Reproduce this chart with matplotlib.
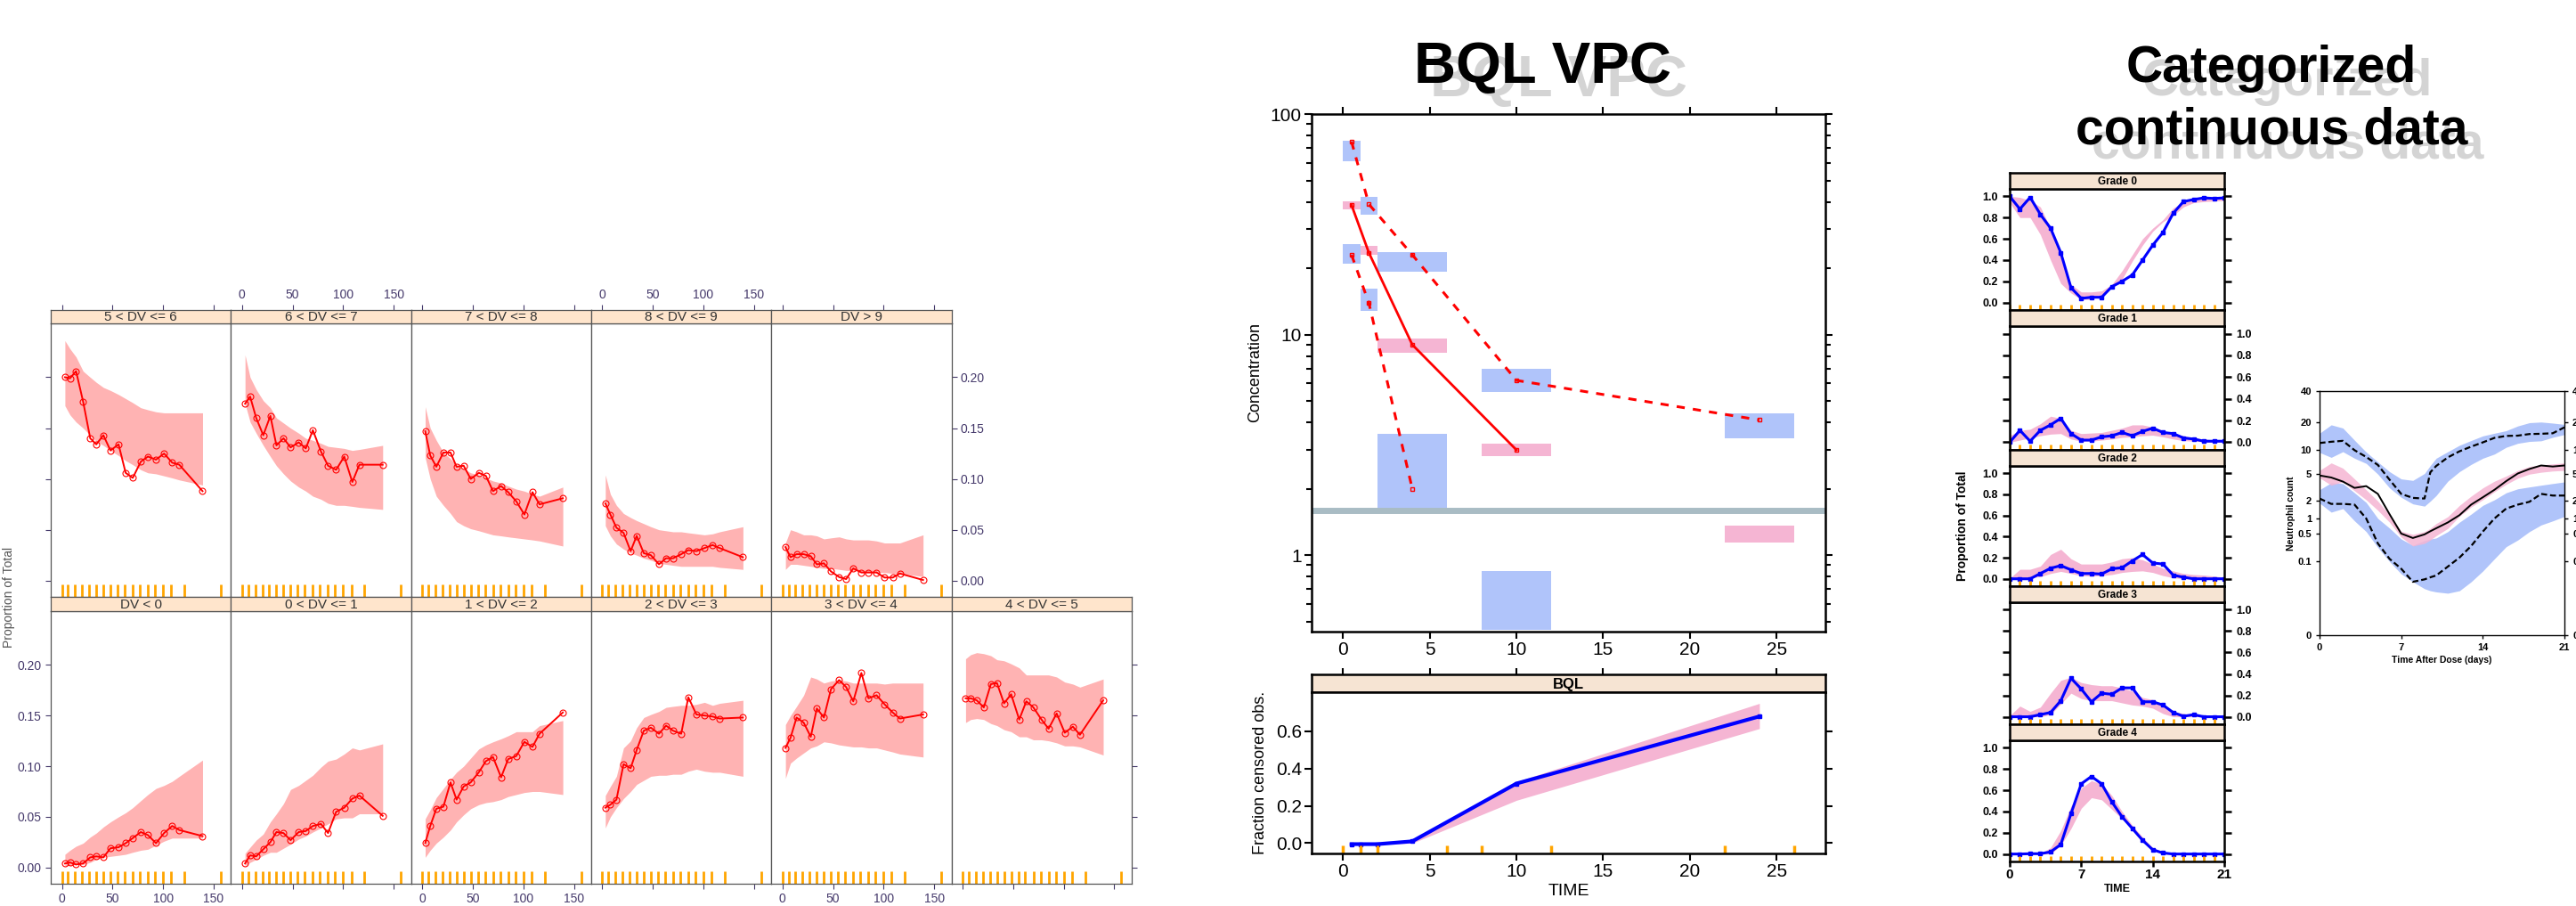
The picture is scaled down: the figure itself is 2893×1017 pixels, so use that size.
import numpy as np
import matplotlib.pyplot as plt
from matplotlib.ticker import FormatStrFormatter, NullFormatter

W, H = 2893, 1017
plt.rcParams['font.family'] = ['Liberation Sans', 'DejaVu Sans']
fig = plt.figure(figsize=(W / 100, H / 100), dpi=100)


def px_axes(l, t, r, b):
    # axes from pixel box (left, top, right, bottom)
    return fig.add_axes([l / W, 1 - b / H, (r - l) / W, (b - t) / H])


# ---------------- LEFT: lattice VPC of categories ----------------
lat_time = [3, 8, 14, 21, 28, 34, 41, 48, 56, 63, 70, 78, 85, 93, 101, 109, 116, 139]
lat_rug = [0, 6, 13, 20, 27, 34, 41, 48, 55, 62, 70, 77, 85, 92, 100, 108, 121, 157]

labels_top = ['5 < DV <= 6', '6 < DV <= 7', '7 < DV <= 8', '8 < DV <= 9', 'DV > 9']
labels_bot = ['DV < 0', '0 < DV <= 1', '1 < DV <= 2', '2 < DV <= 3', '3 < DV <= 4', '4 < DV <= 5']

obs_56 = [0.200, 0.199, 0.206, 0.176, 0.140, 0.134, 0.143, 0.128, 0.134, 0.106, 0.101, 0.117, 0.122, 0.119, 0.125, 0.116, 0.114, 0.088]
lo_56 = [0.172, 0.163, 0.156, 0.150, 0.143, 0.137, 0.133, 0.128, 0.123, 0.118, 0.114, 0.109, 0.106, 0.105, 0.103, 0.101, 0.099, 0.094]
hi_56 = [0.236, 0.228, 0.220, 0.206, 0.200, 0.195, 0.190, 0.187, 0.183, 0.179, 0.175, 0.170, 0.168, 0.166, 0.165, 0.165, 0.165, 0.165]

obs_67 = [0.174, 0.181, 0.160, 0.143, 0.162, 0.133, 0.140, 0.131, 0.136, 0.130, 0.148, 0.127, 0.113, 0.109, 0.122, 0.097, 0.114, 0.114]
lo_67 = [0.174, 0.156, 0.145, 0.133, 0.122, 0.113, 0.105, 0.098, 0.092, 0.088, 0.083, 0.080, 0.076, 0.074, 0.074, 0.073, 0.072, 0.070]
hi_67 = [0.222, 0.200, 0.188, 0.177, 0.170, 0.160, 0.155, 0.150, 0.145, 0.140, 0.138, 0.135, 0.132, 0.131, 0.130, 0.128, 0.129, 0.133]

obs_78 = [0.147, 0.123, 0.112, 0.126, 0.126, 0.112, 0.113, 0.100, 0.106, 0.103, 0.088, 0.093, 0.087, 0.078, 0.065, 0.087, 0.075, 0.081]
lo_78 = [0.121, 0.100, 0.083, 0.074, 0.066, 0.058, 0.054, 0.051, 0.049, 0.047, 0.045, 0.044, 0.043, 0.042, 0.041, 0.040, 0.039, 0.034]
hi_78 = [0.171, 0.150, 0.138, 0.126, 0.120, 0.113, 0.110, 0.106, 0.104, 0.101, 0.098, 0.096, 0.093, 0.090, 0.088, 0.085, 0.083, 0.092]

obs_89 = [0.076, 0.065, 0.052, 0.047, 0.029, 0.044, 0.027, 0.025, 0.016, 0.022, 0.022, 0.026, 0.030, 0.029, 0.032, 0.035, 0.032, 0.023]
lo_89 = [0.054, 0.044, 0.036, 0.031, 0.027, 0.025, 0.022, 0.020, 0.017, 0.016, 0.015, 0.014, 0.014, 0.014, 0.014, 0.014, 0.013, 0.011]
hi_89 = [0.104, 0.085, 0.074, 0.066, 0.062, 0.059, 0.056, 0.053, 0.050, 0.049, 0.048, 0.048, 0.047, 0.046, 0.045, 0.046, 0.048, 0.053]

obs_9 = [0.033, 0.023, 0.026, 0.026, 0.024, 0.016, 0.017, 0.009, 0.0035, 0.0015, 0.012, 0.008, 0.008, 0.008, 0.003, 0.003, 0.007, 0.0006]
lo_9 = [0.011, 0.016, 0.016, 0.015, 0.014, 0.013, 0.012, 0.012, 0.011, 0.010, 0.010, 0.009, 0.009, 0.008, 0.008, 0.007, 0.007, 0.004]
hi_9 = [0.037, 0.050, 0.048, 0.045, 0.045, 0.044, 0.041, 0.042, 0.043, 0.041, 0.040, 0.040, 0.040, 0.039, 0.037, 0.037, 0.037, 0.045]

obs_n0 = [0.004, 0.005, 0.003, 0.004, 0.010, 0.011, 0.010, 0.019, 0.020, 0.024, 0.029, 0.035, 0.032, 0.024, 0.034, 0.041, 0.037, 0.031]
lo_n0 = [0.002, 0.002, 0.003, 0.003, 0.005, 0.008, 0.010, 0.011, 0.012, 0.013, 0.015, 0.017, 0.018, 0.022, 0.026, 0.029, 0.029, 0.029]
hi_n0 = [0.013, 0.017, 0.021, 0.024, 0.030, 0.034, 0.040, 0.045, 0.050, 0.054, 0.059, 0.066, 0.072, 0.078, 0.081, 0.085, 0.090, 0.106]

obs_01 = [0.004, 0.012, 0.011, 0.018, 0.025, 0.035, 0.034, 0.027, 0.035, 0.036, 0.041, 0.043, 0.034, 0.055, 0.059, 0.068, 0.071, 0.051]
lo_01 = [0.002, 0.005, 0.008, 0.012, 0.015, 0.015, 0.019, 0.023, 0.028, 0.031, 0.035, 0.039, 0.043, 0.048, 0.049, 0.049, 0.053, 0.053]
hi_01 = [0.014, 0.020, 0.027, 0.033, 0.045, 0.053, 0.063, 0.077, 0.081, 0.086, 0.091, 0.099, 0.105, 0.107, 0.112, 0.118, 0.116, 0.122]

obs_12 = [0.024, 0.041, 0.058, 0.060, 0.084, 0.067, 0.080, 0.084, 0.094, 0.105, 0.109, 0.089, 0.107, 0.110, 0.124, 0.119, 0.132, 0.153]
lo_12 = [0.010, 0.017, 0.024, 0.030, 0.037, 0.045, 0.052, 0.058, 0.062, 0.064, 0.065, 0.067, 0.070, 0.072, 0.074, 0.075, 0.075, 0.072]
hi_12 = [0.048, 0.057, 0.069, 0.078, 0.087, 0.094, 0.100, 0.108, 0.117, 0.121, 0.124, 0.127, 0.130, 0.134, 0.134, 0.134, 0.140, 0.145]

obs_23 = [0.059, 0.062, 0.067, 0.102, 0.098, 0.116, 0.135, 0.138, 0.132, 0.140, 0.135, 0.132, 0.168, 0.151, 0.150, 0.149, 0.147, 0.148]
lo_23 = [0.039, 0.050, 0.059, 0.068, 0.075, 0.082, 0.086, 0.090, 0.091, 0.091, 0.092, 0.092, 0.095, 0.097, 0.095, 0.094, 0.094, 0.090]
hi_23 = [0.071, 0.080, 0.090, 0.118, 0.125, 0.138, 0.148, 0.151, 0.154, 0.158, 0.159, 0.160, 0.160, 0.161, 0.163, 0.160, 0.162, 0.165]

obs_34 = [0.118, 0.128, 0.148, 0.143, 0.129, 0.157, 0.148, 0.176, 0.185, 0.178, 0.164, 0.192, 0.167, 0.170, 0.161, 0.153, 0.147, 0.151]
lo_34 = [0.088, 0.103, 0.108, 0.113, 0.118, 0.120, 0.124, 0.123, 0.121, 0.120, 0.119, 0.119, 0.118, 0.118, 0.116, 0.114, 0.112, 0.109]
hi_34 = [0.141, 0.150, 0.159, 0.170, 0.188, 0.186, 0.182, 0.184, 0.185, 0.184, 0.182, 0.182, 0.182, 0.182, 0.181, 0.182, 0.182, 0.182]

obs_45 = [0.167, 0.167, 0.165, 0.158, 0.181, 0.182, 0.162, 0.171, 0.146, 0.164, 0.158, 0.146, 0.137, 0.152, 0.133, 0.139, 0.131, 0.165]
lo_45 = [0.143, 0.146, 0.147, 0.146, 0.142, 0.140, 0.136, 0.134, 0.129, 0.129, 0.126, 0.126, 0.125, 0.123, 0.120, 0.120, 0.119, 0.111]
hi_45 = [0.206, 0.210, 0.212, 0.211, 0.209, 0.205, 0.204, 0.201, 0.197, 0.190, 0.190, 0.190, 0.190, 0.188, 0.183, 0.181, 0.178, 0.186]

# ---------------- MIDDLE: BQL VPC ----------------
blue_x0 = [0, 1, 0, 2, 1, 8, 22, 2, 8]
blue_x1 = [1, 2, 1, 6, 2, 12, 26, 6, 12]
blue_lo = [61, 35, 21, 19.2, 12.8, 5.5, 3.4, 1.6, 0.46]
blue_hi = [76, 42, 25.7, 23.7, 16.1, 7.0, 4.4, 3.54, 0.85]
pink_x0 = [0, 1, 2, 8, 22]
pink_x1 = [1, 2, 6, 12, 26]
pink_lo = [37, 23, 8.3, 2.8, 1.14]
pink_hi = [40.3, 25.2, 9.6, 3.2, 1.36]
loq = 1.6

p95_t = [0.5, 1.5, 4, 10, 24]
p95_obs = [75, 39, 23, 6.2, 4.1]
p50_t = [0.5, 1.5, 4, 10]
p50_obs = [38.7, 23.5, 9.0, 3.0]
p05_t = [0.5, 1.5, 4]
p05_obs = [23, 13.9, 2.0]

bql_t = [0.5, 1, 2, 4, 10, 24]
bql_obs = [-0.005, -0.005, -0.005, 0.01, 0.32, 0.68]
bql_lo = [-0.005, -0.005, -0.005, 0.0, 0.23, 0.615]
bql_hi = [-0.005, -0.005, -0.005, 0.02, 0.33, 0.75]
bql_rug = [0, 1, 2, 6, 8, 12, 22, 26]

# ---------------- RIGHT: categorized grades ----------------
grade_days = [0, 1, 2, 3, 4, 5, 6, 7, 8, 9, 10, 11, 12, 13, 14, 15, 16, 17, 18, 19, 20, 21]
grade_rug = [0, 1, 2, 3, 4, 5, 6, 7, 8, 9, 10, 11, 12, 13, 14, 15, 16, 17, 18, 19, 20]
grade_names = ['Grade 0', 'Grade 1', 'Grade 2', 'Grade 3', 'Grade 4']

g0_obs = [1.0, 0.88, 0.99, 0.83, 0.70, 0.47, 0.14, 0.04, 0.05, 0.05, 0.15, 0.20, 0.26, 0.40, 0.54, 0.66, 0.84, 0.95, 0.97, 0.985, 0.98, 0.985]
g0_lo = [0.94, 0.80, 0.80, 0.64, 0.40, 0.18, 0.09, 0.03, 0.03, 0.07, 0.14, 0.22, 0.39, 0.54, 0.67, 0.76, 0.82, 0.90, 0.94, 0.95, 0.955, 0.96]
g0_hi = [1.0, 0.99, 0.96, 0.90, 0.70, 0.45, 0.17, 0.10, 0.10, 0.11, 0.17, 0.30, 0.45, 0.60, 0.70, 0.78, 0.89, 0.94, 0.97, 0.98, 0.985, 0.99]

g1_obs = [0.0, 0.11, 0.01, 0.11, 0.16, 0.22, 0.08, 0.02, 0.02, 0.05, 0.06, 0.09, 0.06, 0.10, 0.13, 0.09, 0.08, 0.04, 0.03, 0.01, 0.01, 0.01]
g1_lo = [0.0, 0.02, 0.04, 0.06, 0.075, 0.08, 0.03, 0.01, 0.01, 0.02, 0.03, 0.045, 0.05, 0.06, 0.065, 0.05, 0.03, 0.015, 0.01, 0.005, 0.0, 0.0]
g1_hi = [0.06, 0.11, 0.12, 0.17, 0.24, 0.22, 0.11, 0.08, 0.085, 0.09, 0.11, 0.13, 0.16, 0.16, 0.14, 0.11, 0.08, 0.06, 0.04, 0.03, 0.02, 0.01]

g2_obs = [0.0, 0.0, 0.0, 0.05, 0.10, 0.125, 0.085, 0.05, 0.05, 0.045, 0.095, 0.105, 0.17, 0.23, 0.15, 0.14, 0.035, 0.015, 0.0, 0.0, 0.0, 0.0]
g2_lo = [0.0, 0.0, 0.01, 0.02, 0.05, 0.07, 0.05, 0.03, 0.025, 0.03, 0.04, 0.06, 0.07, 0.075, 0.06, 0.03, 0.01, 0.0, 0.0, 0.0, 0.0, 0.0]
g2_hi = [0.005, 0.09, 0.09, 0.12, 0.23, 0.28, 0.19, 0.14, 0.14, 0.14, 0.16, 0.19, 0.20, 0.18, 0.14, 0.10, 0.075, 0.05, 0.04, 0.035, 0.025, 0.015]

g3_obs = [0.0, 0.0, 0.0, 0.02, 0.04, 0.15, 0.36, 0.26, 0.14, 0.22, 0.21, 0.27, 0.27, 0.14, 0.14, 0.11, 0.04, 0.005, 0.02, 0.0, 0.0, 0.0]
g3_lo = [0.0, 0.0, 0.0, 0.0, 0.02, 0.12, 0.22, 0.17, 0.15, 0.15, 0.15, 0.13, 0.11, 0.10, 0.08, 0.03, 0.0, 0.0, 0.0, 0.0, 0.0, 0.0]
g3_hi = [0.01, 0.10, 0.05, 0.09, 0.22, 0.34, 0.37, 0.32, 0.30, 0.29, 0.29, 0.27, 0.24, 0.18, 0.16, 0.11, 0.05, 0.03, 0.02, 0.01, 0.01, 0.005]

g4_obs = [0.0, 0.0, 0.003, 0.003, 0.02, 0.09, 0.38, 0.66, 0.73, 0.66, 0.49, 0.35, 0.24, 0.13, 0.04, 0.01, 0.0, 0.0, 0.0, 0.0, 0.0, 0.0]
g4_lo = [0.0, 0.0, 0.0, 0.0, 0.0, 0.08, 0.24, 0.43, 0.53, 0.51, 0.42, 0.33, 0.24, 0.12, 0.04, 0.0, 0.0, 0.0, 0.0, 0.0, 0.0, 0.0]
g4_hi = [0.0, 0.0, 0.0, 0.005, 0.06, 0.22, 0.45, 0.62, 0.69, 0.66, 0.55, 0.40, 0.27, 0.16, 0.06, 0.02, 0.008, 0.005, 0.0, 0.0, 0.0, 0.0]

# neutrophil count VPC
neut_days = [0, 1, 2, 3, 4, 5, 6, 7, 8, 9, 9.5, 10, 11, 12, 13, 14, 15, 16, 17, 18, 19, 20, 21]
n95_obs = [12.1, 12.5, 12.8, 10, 8.3, 6.6, 4.2, 2.6, 2.25, 2.2, 5.3, 6.4, 8.2, 9.7, 11, 12.3, 13.8, 14.5, 14.6, 15.2, 15.3, 15.5, 17.9]
n95_lo = [9.4, 8.2, 9.6, 8.0, 6.9, 5.0, 3.2, 2.3, 1.8, 1.65, 2.0, 2.45, 4.0, 5.4, 6.7, 8.0, 9.0, 10.8, 12.0, 12.6, 12.8, 14, 15]
n95_hi = [15.5, 19.0, 17.6, 13, 9.5, 7.2, 5.4, 4.3, 4.1, 5.1, 6.5, 8.0, 9.6, 11.4, 12.9, 14.5, 15.5, 16.5, 18.5, 20.0, 20.3, 19.8, 19.2]
n50_obs = [4.8, 4.5, 3.95, 3.2, 3.4, 2.6, 1.2, 0.5, 0.4, 0.48, 0.56, 0.645, 0.84, 1.15, 1.75, 2.3, 3.0, 4.0, 5.1, 5.85, 6.5, 6.3, 6.5]
n50_lo = [4.46, 3.5, 3.9, 2.9, 2.1, 1.4, 0.85, 0.42, 0.26, 0.3, 0.36, 0.45, 0.64, 1.1, 1.6, 2.1, 2.8, 3.6, 4.4, 5.0, 5.3, 5.5, 5.6]
n50_hi = [5.6, 7.0, 6.0, 4.3, 3.0, 2.0, 1.16, 0.56, 0.48, 0.55, 0.645, 0.8, 1.08, 1.7, 2.4, 3.2, 4.0, 4.7, 5.6, 6.3, 6.6, 6.8, 7.0]
n05_obs = [2.2, 1.8, 1.8, 1.75, 1.0, 0.3, 0.12, 0.06, 0.02, 0.025, 0.03, 0.035, 0.07, 0.13, 0.26, 0.55, 1.0, 1.5, 1.75, 1.95, 2.6, 2.45, 2.45]
n05_lo = [1.86, 1.3, 1.5, 0.9, 0.55, 0.24, 0.1, 0.04, 0.02, 0.01, 0.008, 0.007, 0.006, 0.008, 0.02, 0.05, 0.12, 0.25, 0.36, 0.55, 0.75, 0.9, 1.09]
n05_hi = [3.0, 3.8, 3.7, 2.7, 1.9, 1.0, 0.65, 0.38, 0.27, 0.35, 0.38, 0.40, 0.55, 0.85, 1.2, 1.7, 2.1, 2.7, 3.1, 3.3, 3.5, 3.7, 3.9]

BAND_BLUE = '#b0c4fa'
BAND_PINK = '#f5b5d3'
STRIP_BEIGE = '#f6e4d3'
LAT_TICK = '#45396b'


# ===== left lattice =====
def lattice_panel(col, row, label, obs, lo, hi):
    left = 57 + col * 202.3
    right = left + 202.3
    if row == 0:
        s_top, p_top, p_bot = 348, 363, 670
    else:
        s_top, p_top, p_bot = 670, 686, 992
    ax = px_axes(left, p_top, right, p_bot)
    ax.fill_between(lat_time, lo, hi, color='#ffb3b3', lw=0)
    ax.plot(lat_time, obs, color='red', lw=1.4, marker='o', ms=5, mfc='none', mew=0.8)
    ax.vlines(lat_rug, 0, 0.045, transform=ax.get_xaxis_transform(), color='#ffa500', lw=2)
    ax.set_xlim(-11, 167)
    ax.set_ylim(-0.016, 0.253)
    ax.set_xticks([0, 50, 100, 150])
    ax.set_yticks([0, 0.05, 0.10, 0.15, 0.20])
    ax.yaxis.set_major_formatter(FormatStrFormatter('%.2f'))
    for sp in ax.spines.values():
        sp.set_color('#555555')
        sp.set_linewidth(0.9)
    ax.tick_params(colors=LAT_TICK, labelsize=10, length=4, width=0.8, direction='out')
    ax.tick_params(axis='x', top=False, labeltop=False,
                   bottom=(row == 1), labelbottom=(row == 1 and col % 2 == 0))
    ax.tick_params(axis='y', left=(col == 0), labelleft=(row == 1 and col == 0),
                   right=(row == 0 and col == 4) or (row == 1 and col == 5),
                   labelright=(row == 0 and col == 4))

    sax = px_axes(left, s_top, right, p_top)
    sax.set_facecolor('#ffe5cc')
    sax.set_xlim(-11, 167)
    sax.set_yticks([])
    if row == 0:
        sax.set_xticks([0, 50, 100, 150])
        sax.tick_params(axis='x', bottom=False, labelbottom=False, top=True,
                        labeltop=(col % 2 == 1), colors=LAT_TICK, labelsize=10,
                        length=4, width=0.8)
    else:
        sax.set_xticks([])
    for sp in sax.spines.values():
        sp.set_color('#555555')
        sp.set_linewidth(0.9)
    sax.text(0.5, 0.45, label, transform=sax.transAxes, ha='center', va='center',
             fontsize=11, color='#333333')


top_data = [(obs_56, lo_56, hi_56), (obs_67, lo_67, hi_67), (obs_78, lo_78, hi_78),
            (obs_89, lo_89, hi_89), (obs_9, lo_9, hi_9)]
bot_data = [(obs_n0, lo_n0, hi_n0), (obs_01, lo_01, hi_01), (obs_12, lo_12, hi_12),
            (obs_23, lo_23, hi_23), (obs_34, lo_34, hi_34), (obs_45, lo_45, hi_45)]
for i, (o, l, h) in enumerate(top_data):
    lattice_panel(i, 0, labels_top[i], o, l, h)
for i, (o, l, h) in enumerate(bot_data):
    lattice_panel(i, 1, labels_bot[i], o, l, h)
fig.text(10 / W, 1 - 670 / H, 'Proportion of Total', rotation=90, ha='center', va='center',
         fontsize=10, color='#555555')


# ===== middle: BQL VPC =====
def shadow_title(x, y, s, size):
    fig.text((x + 18) / W, 1 - (y + 15) / H, s, ha='center', va='baseline', fontsize=size,
             fontweight='bold', color='#d4d4d4')
    fig.text(x / W, 1 - y / H, s, ha='center', va='baseline', fontsize=size,
             fontweight='bold', color='black')


shadow_title(1732, 93, 'BQL VPC', 47)

ax = px_axes(1473, 128, 2050, 709)
ax.set_yscale('log')
ax.bar(blue_x0, np.subtract(blue_hi, blue_lo), width=np.subtract(blue_x1, blue_x0),
       bottom=blue_lo, align='edge', color=BAND_BLUE, lw=0)
ax.bar(pink_x0, np.subtract(pink_hi, pink_lo), width=np.subtract(pink_x1, pink_x0),
       bottom=pink_lo, align='edge', color=BAND_PINK, lw=0)
ax.axhline(loq, color='#a9bcc4', lw=5)
ax.plot(p95_t, p95_obs, color='red', lw=2.2, ls=(0, (3, 3)), marker='s', ms=3, mfc='none')
ax.plot(p50_t, p50_obs, color='red', lw=2.0, marker='s', ms=3, mfc='none')
ax.plot(p05_t, p05_obs, color='red', lw=2.2, ls=(0, (3, 3)), marker='s', ms=3, mfc='none')
ax.set_xlim(-1.8, 27.8)
ax.set_ylim(0.45, 100)
ax.set_xticks([0, 5, 10, 15, 20, 25])
ax.set_yticks([1, 10, 100], ['1', '10', '100'])
ax.yaxis.set_minor_formatter(NullFormatter())
for sp in ax.spines.values():
    sp.set_linewidth(1.8)
ax.tick_params(which='both', direction='out', top=True, right=True, labeltop=False,
               labelright=False, width=1.5, labelsize=15, pad=2)
ax.tick_params(which='major', length=6)
ax.tick_params(which='minor', length=4)
ax.set_ylabel('Concentration', fontsize=13, labelpad=6)

sax = px_axes(1473, 757, 2050, 777)
sax.set_facecolor(STRIP_BEIGE)
sax.set_xlim(-1.8, 27.8)
sax.set_xticks([0, 5, 10, 15, 20, 25])
sax.set_yticks([])
sax.tick_params(axis='x', bottom=False, labelbottom=False, top=True, length=5, width=1.5)
for sp in sax.spines.values():
    sp.set_linewidth(1.8)
sax.text(0.5, 0.45, 'BQL', transform=sax.transAxes, ha='center', va='center',
         fontsize=12, fontweight='bold')

bx = px_axes(1473, 777, 2050, 958)
bx.fill_between(bql_t, bql_lo, bql_hi, color=BAND_PINK, lw=0)
bx.plot(bql_t, bql_obs, color='#0000ff', lw=3, marker='s', ms=3)
bx.vlines(bql_rug, 0, 0.05, transform=bx.get_xaxis_transform(), color='#ffa500', lw=2.5)
bx.set_xlim(-1.8, 27.8)
bx.set_ylim(-0.055, 0.81)
bx.set_xticks([0, 5, 10, 15, 20, 25])
bx.set_yticks([0, 0.2, 0.4, 0.6])
bx.yaxis.set_major_formatter(FormatStrFormatter('%.1f'))
for sp in bx.spines.values():
    sp.set_linewidth(1.8)
bx.tick_params(direction='out', right=True, top=False, labelright=False, width=1.5,
               length=6, labelsize=15, pad=2)
bx.set_ylabel('Fraction censored obs.', fontsize=13, labelpad=6)
bx.set_xlabel('TIME', fontsize=14, labelpad=3)


# ===== right: categorized continuous data =====
fig.text((2551 + 18) / W, 1 - (92 + 15) / H, 'Categorized', ha='center', va='baseline',
         fontsize=41, fontweight='bold', color='#d4d4d4')
fig.text((2551 + 18) / W, 1 - (162 + 15) / H, 'continuous data', ha='center', va='baseline',
         fontsize=41, fontweight='bold', color='#d4d4d4')
fig.text(2551 / W, 1 - 92 / H, 'Categorized', ha='center', va='baseline',
         fontsize=41, fontweight='bold', color='black')
fig.text(2551 / W, 1 - 162 / H, 'continuous data', ha='center', va='baseline',
         fontsize=41, fontweight='bold', color='black')

grade_data = [(g0_obs, g0_lo, g0_hi), (g1_obs, g1_lo, g1_hi), (g2_obs, g2_lo, g2_hi),
              (g3_obs, g3_lo, g3_hi), (g4_obs, g4_lo, g4_hi)]
strip_tops = [194, 348, 505, 658, 813]
panel_bots = [348, 505, 658, 813, 967]
for i, (o, l, h) in enumerate(grade_data):
    gx = px_axes(2257, strip_tops[i] + 18, 2498, panel_bots[i])
    gx.fill_between(grade_days, l, h, color=BAND_PINK, lw=0)
    gx.plot(grade_days, o, color='#0000ff', lw=2.2, marker='s', ms=2.5)
    gx.vlines(grade_rug, 0, 0.045, transform=gx.get_xaxis_transform(), color='#ffa500', lw=2)
    gx.set_xlim(0, 21)
    gx.set_ylim(-0.07, 1.07)
    gx.set_yticks([0, 0.2, 0.4, 0.6, 0.8, 1.0])
    gx.yaxis.set_major_formatter(FormatStrFormatter('%.1f'))
    gx.set_xticks([0, 7, 14, 21])
    for sp in gx.spines.values():
        sp.set_linewidth(1.8)
    gx.tick_params(direction='out', length=6, width=1.8, labelsize=9)
    gx.tick_params(axis='y', left=True, right=True, labelleft=(i % 2 == 0),
                   labelright=(i % 2 == 1))
    gx.tick_params(axis='x', top=False, bottom=(i == 4), labelbottom=(i == 4),
                   labelsize=11, length=4, pad=2)
    for t in gx.get_yticklabels() + gx.get_xticklabels():
        t.set_fontweight('bold')
    if i == 4:
        gx.set_xlabel('TIME', fontsize=9, fontweight='bold', labelpad=2)

    gs = px_axes(2257, strip_tops[i], 2498, strip_tops[i] + 18)
    gs.set_facecolor(STRIP_BEIGE)
    gs.set_xticks([])
    gs.set_yticks([])
    for sp in gs.spines.values():
        sp.set_linewidth(1.8)
    gs.text(0.5, 0.45, grade_names[i], transform=gs.transAxes, ha='center', va='center',
            fontsize=8.5, fontweight='bold')
fig.text(2204 / W, 1 - 590 / H, 'Proportion of Total', rotation=90, ha='center', va='center',
         fontsize=10, fontweight='bold')


# neutrophil panel, fifth-root y scale
def root5(v):
    v = np.asarray(v, dtype=float)
    return np.sign(v) * np.abs(v) ** 0.2


def pow5(v):
    v = np.asarray(v, dtype=float)
    return np.sign(v) * np.abs(v) ** 5


nx = px_axes(2605, 439, 2880, 713)
nx.set_yscale('function', functions=(root5, pow5))
nx.fill_between(neut_days, n95_lo, n95_hi, color=BAND_BLUE, lw=0)
nx.fill_between(neut_days, n05_lo, n05_hi, color=BAND_BLUE, lw=0)
nx.fill_between(neut_days, n50_lo, n50_hi, color=BAND_PINK, lw=0, alpha=0.85)
nx.plot(neut_days, n95_obs, color='black', lw=1.6, ls=(0, (3, 1.5)))
nx.plot(neut_days, n50_obs, color='black', lw=1.4)
nx.plot(neut_days, n05_obs, color='black', lw=1.6, ls=(0, (3, 1.5)))
nx.set_xlim(0, 21)
nx.set_ylim(0, 40)
nx.set_xticks([0, 7, 14, 21])
nx.set_yticks([0, 0.1, 0.5, 1, 2, 5, 10, 20, 40], ['0', '0.1', '0.5', '1', '2', '5', '10', '20', '40'])
nx.yaxis.set_minor_formatter(NullFormatter())
nx.tick_params(which='minor', left=False, right=False)
nx.tick_params(direction='out', length=3, width=1, right=True, labelright=True, labelsize=8)
for t in nx.get_yticklabels() + nx.get_xticklabels():
    t.set_fontweight('bold')
for sp in nx.spines.values():
    sp.set_linewidth(1)
nx.set_ylabel('Neutrophil count', fontsize=7.5, fontweight='bold', labelpad=2)
nx.set_xlabel('Time After Dose (days)', fontsize=7.5, fontweight='bold', labelpad=3)

fig.savefig('out.png', dpi=100, facecolor='white')
